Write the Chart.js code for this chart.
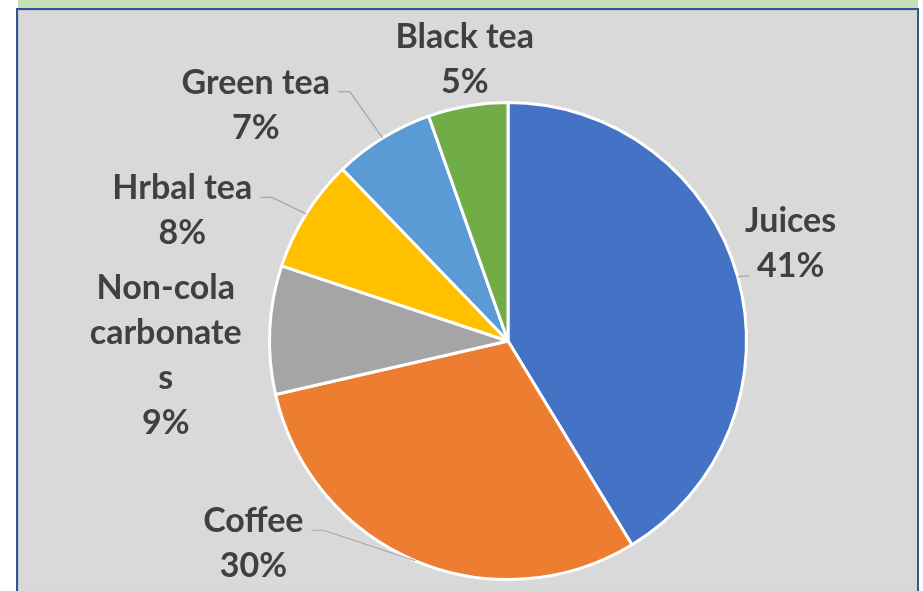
<!DOCTYPE html>
<html>
<head>
<meta charset="utf-8">
<script src="https://cdn.jsdelivr.net/npm/chart.js@4.4.1/dist/chart.umd.min.js"></script>
<style>
  html, body { margin: 0; padding: 0; background: #ffffff; overflow: hidden; }
  .band { position: absolute; left: 18px; top: 0; width: 900px; height: 9px; background: #c5e0b4; }
  .frame { position: absolute; left: 16px; top: 8px; width: 899px; height: 600px;
           border: 2px solid #2f5597; border-bottom: none; background: #d9d9d9;
           box-shadow: inset 1px 1px 0 #c8c8c8; }
  #chartCanvas { position: absolute; left: 0; top: 0; }
</style>
</head>
<body>
<div class="band"></div>
<div class="frame"></div>
<canvas id="chartCanvas" width="923" height="591"></canvas>
<script>
// ---- data ----
const categories = ["Juices", "Coffee", "Non-cola carbonates", "Hrbal tea", "Green tea", "Black tea"];
const values = [41.3, 30.1, 8.7, 7.7, 6.8, 5.4];
const sliceColors = ["#4472c4", "#ed7d31", "#a5a5a5", "#ffc000", "#5b9bd5", "#70ad47"];
// how each category name is wrapped in its label
const labelLines = [["Juices"], ["Coffee"], ["Non-cola", "carbonate", "s"], ["Hrbal tea"], ["Green tea"], ["Black tea"]];

// label block offset from the slice's outer mid-point, and where the leader line attaches
const labelLayout = [
  { dx: 53, dy: -33, leader: "pctLeft" },
  { dx: -162, dy: -17, leader: "nameRight" },
  { dx: -104, dy: 26, leader: null },
  { dx: -124, dy: -3, leader: "nameRight" },
  { dx: -127, dy: -33, leader: "nameRight" },
  { dx: -3, dy: -46, leader: null }
];

const LABEL_FONT = "bold 34px Lato";
const LINE_H = 45;

const labelPlugin = {
  id: "sliceLabels",
  afterDatasetsDraw(chart) {
    const ctx = chart.ctx;
    const meta = chart.getDatasetMeta(0);
    const total = values.reduce((a, b) => a + b, 0);
    ctx.save();
    ctx.font = LABEL_FONT;
    ctx.textAlign = "center";
    ctx.textBaseline = "middle";
    meta.data.forEach((arc, i) => {
      const p = arc.getProps(["x", "y", "startAngle", "endAngle", "outerRadius"], true);
      const mid = (p.startAngle + p.endAngle) / 2;
      const ax = p.x + Math.cos(mid) * p.outerRadius;
      const ay = p.y + Math.sin(mid) * p.outerRadius;
      const lay = labelLayout[i];
      const lines = labelLines[i].concat([Math.round(values[i] / total * 100) + "%"]);
      const cx = ax + lay.dx;
      const cy = ay + lay.dy;
      const top = cy - (lines.length - 1) * LINE_H / 2;

      // leader line
      if (lay.leader) {
        let px, py, qx;
        if (lay.leader === "nameRight") {
          const w = ctx.measureText(lines[0]).width;
          px = cx + w / 2 + 8;
          py = top + 9;
          qx = px + 12;
        } else {
          const last = lines[lines.length - 1];
          const w = ctx.measureText(last).width;
          px = cx - w / 2 - 8;
          py = top + (lines.length - 1) * LINE_H + 10;
          qx = px - 6;
        }
        ctx.strokeStyle = "#a6a6a6";
        ctx.lineWidth = 1.2;
        ctx.beginPath();
        ctx.moveTo(px, py);
        ctx.lineTo(qx, py);
        ctx.lineTo(ax, ay);
        ctx.stroke();
      }

      ctx.fillStyle = "#404040";
      lines.forEach((t, k) => ctx.fillText(t, cx, top + k * LINE_H));
    });
    ctx.restore();
  }
};

new Chart(document.getElementById("chartCanvas"), {
  type: "pie",
  data: {
    labels: categories,
    datasets: [{
      data: values,
      backgroundColor: sliceColors,
      borderColor: "#ffffff",
      borderWidth: 3
    }]
  },
  options: {
    responsive: false,
    animation: false,
    layout: { padding: { left: 268, top: 101, right: 175, bottom: 10 } },
    plugins: { legend: { display: false }, tooltip: { enabled: false } }
  },
  plugins: [labelPlugin]
});
</script>
</body>
</html>
